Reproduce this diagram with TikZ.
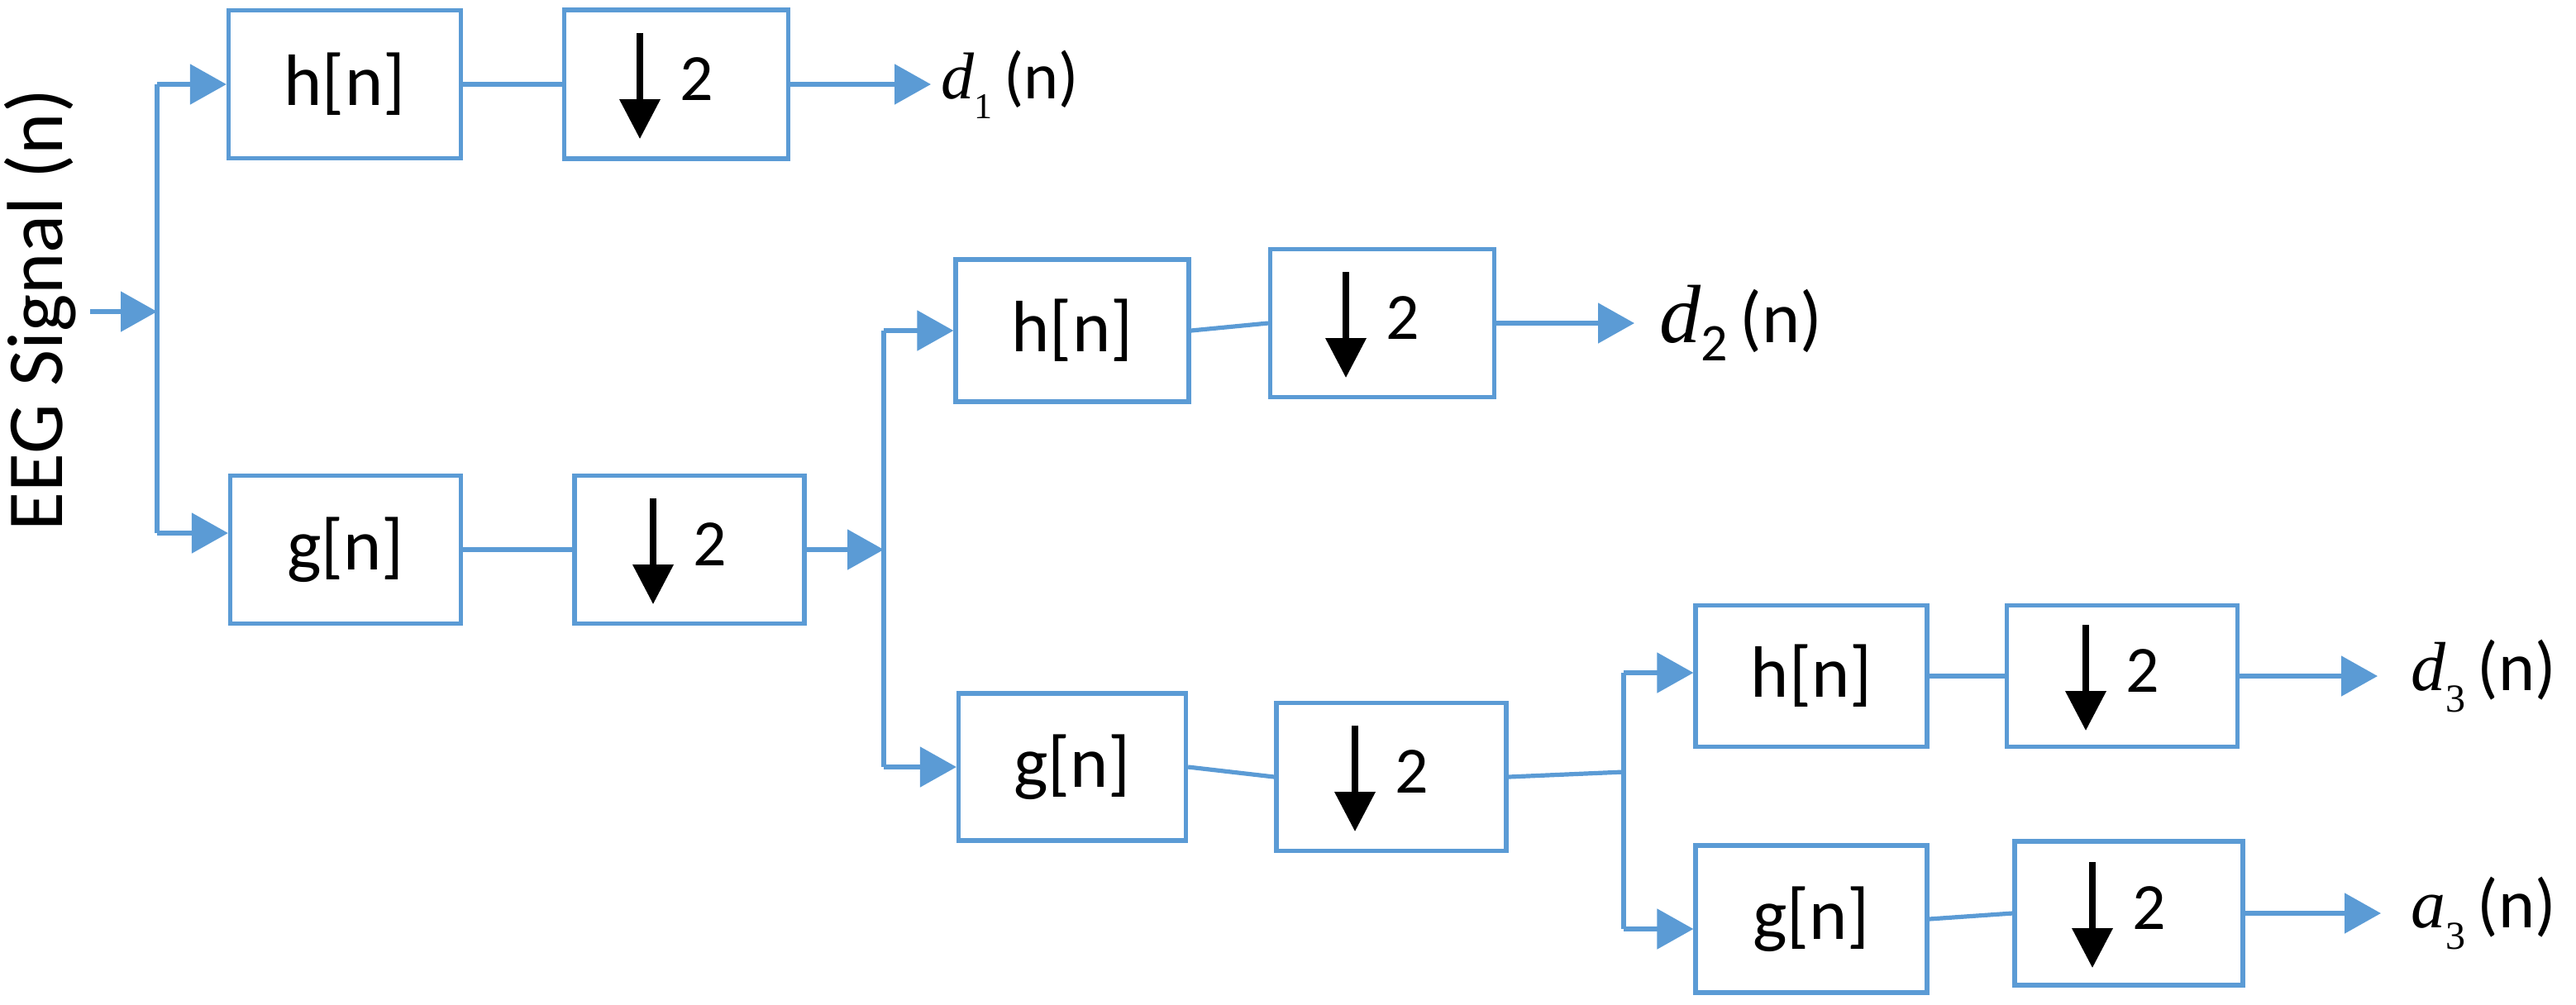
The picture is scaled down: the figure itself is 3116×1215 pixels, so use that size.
\documentclass[tikz,border=0pt]{standalone}
\usepackage{fontspec}
\setmainfont{Carlito}
\newfontfamily\dfont{Liberation Serif}
\usetikzlibrary{arrows.meta}
\definecolor{bl}{HTML}{5B9BD5}
\tikzset{
  blk/.style={draw=bl, line width=1.3pt, fill=white, inner sep=0pt, font=\fontsize{22}{26}\selectfont},
  ln/.style={draw=bl, line width=1.3pt},
  arr/.style={draw=bl, line width=1.3pt, -{Triangle[length=11pt,width=12pt,fill=bl]}},
  dn/.style={draw=black, line width=1.8pt, -{Triangle[length=12pt,width=12pt,fill=black]}},
  two/.style={anchor=west, inner sep=0pt, font=\fontsize{20}{24}\selectfont},
  lbl/.style={anchor=west, inner sep=0pt},
}
\newcommand{\bx}[6]{\node[blk, minimum width=#4*0.25pt, minimum height=#5*0.25pt] (#1) at (#2,#3) {#6};}
\newcommand{\dsx}[1]{%
  \draw[dn] ([shift={(-44,-62)}]#1.center) -- ([shift={(-44,66)}]#1.center);
  \node[two] (#1two) at ([shift={(4,-6)}]#1.center) {2};}
\begin{document}
\begin{tikzpicture}[x=0.25pt,y=-0.25pt]
\useasboundingbox (0,0) rectangle (3116,1215);
% boxes
\bx{h1}{417}{102}{281}{179}{h[n]}
\bx{D1}{818}{102}{271}{180}{}
\bx{g1}{418}{665}{279}{179}{g[n]}
\bx{D2}{834}{665}{278}{179}{}
\bx{h2}{1297}{400}{282}{172}{h[n]}
\bx{D3}{1672}{391}{271}{179}{}
\bx{g2}{1297}{928}{275}{178}{g[n]}
\bx{D4}{1683}{940}{278}{179}{}
\bx{h3}{2191}{818}{280}{171}{h[n]}
\bx{D5}{2567}{818}{279}{171}{}
\bx{g3}{2191}{1112}{280}{178}{g[n]}
\bx{D6}{2575}{1105}{276}{174}{}
\dsx{D1}\dsx{D2}\dsx{D3}\dsx{D4}\dsx{D5}\dsx{D6}
% labels
\node[rotate=90, font=\fontsize{24}{28}\selectfont] (eeg) at (49,375) {EEG Signal (n)};
\node[lbl, font=\fontsize{20}{24}\selectfont] (d1) at (1138,102) {{\dfont\itshape d}\raisebox{-0.3em}{\fontsize{11}{11}\selectfont\dfont 1}\,(n)};
\node[lbl, font=\fontsize{22}{26}\selectfont] (d2) at (2007,391) {{\fontsize{25}{28}\selectfont\dfont\itshape d}\raisebox{-0.25em}{\fontsize{16}{16}\selectfont 2}\,(n)};
\node[lbl, font=\fontsize{21}{25}\selectfont] (d3) at (2916,818) {{\dfont\itshape d}\raisebox{-0.3em}{\fontsize{12}{12}\selectfont\dfont 3}\,(n)};
\node[lbl, font=\fontsize{21}{25}\selectfont] (a3) at (2916,1105) {{\dfont\itshape a}\raisebox{-0.3em}{\fontsize{12}{12}\selectfont\dfont 3}\,(n)};
% level 1
\coordinate (in) at (109,377);
\coordinate (j1) at (190,377);
\coordinate (j1t) at (190,102);
\coordinate (j1b) at (190,645);
\draw[arr] (in) -- (j1);
\draw[ln] (j1t) -- (j1b);
\draw[arr] (j1t) -- (j1t -| h1.west);
\draw[arr] (j1b) -- (j1b -| g1.west);
\draw[ln] (h1.east) -- (D1.west);
\draw[arr, shorten >=3pt] (D1.east) -- (d1.west);
\draw[ln] (g1.east) -- (D2.west);
% level 2
\coordinate (j2) at (1069,665);
\coordinate (j2t) at (1069,400);
\coordinate (j2b) at (1069,928);
\draw[arr] (D2.east) -- (j2);
\draw[ln] (j2t) -- (j2b);
\draw[arr] (j2t) -- (j2t -| h2.west);
\draw[arr] (j2b) -- (j2b -| g2.west);
\draw[ln] (h2.east) -- (D3.west);
\draw[arr, shorten >=7.5pt] (D3.east) -- (d2.west);
\draw[ln] (g2.east) -- (D4.west);
% level 3
\coordinate (j3) at (1964,934);
\coordinate (j3t) at (1964,814);
\coordinate (j3b) at (1964,1124);
\draw[ln] (D4.east) -- (j3);
\draw[ln] (j3t) -- (j3b);
\draw[arr] (j3t) -- (j3t -| h3.west);
\draw[arr] (j3b) -- (j3b -| g3.west);
\draw[ln] (h3.east) -- (D5.west);
\draw[arr, shorten >=10pt] (D5.east) -- (d3.west);
\draw[ln] (g3.east) -- (D6.west);
\draw[arr, shorten >=9pt] (D6.east) -- (a3.west);
\end{tikzpicture}
\end{document}
